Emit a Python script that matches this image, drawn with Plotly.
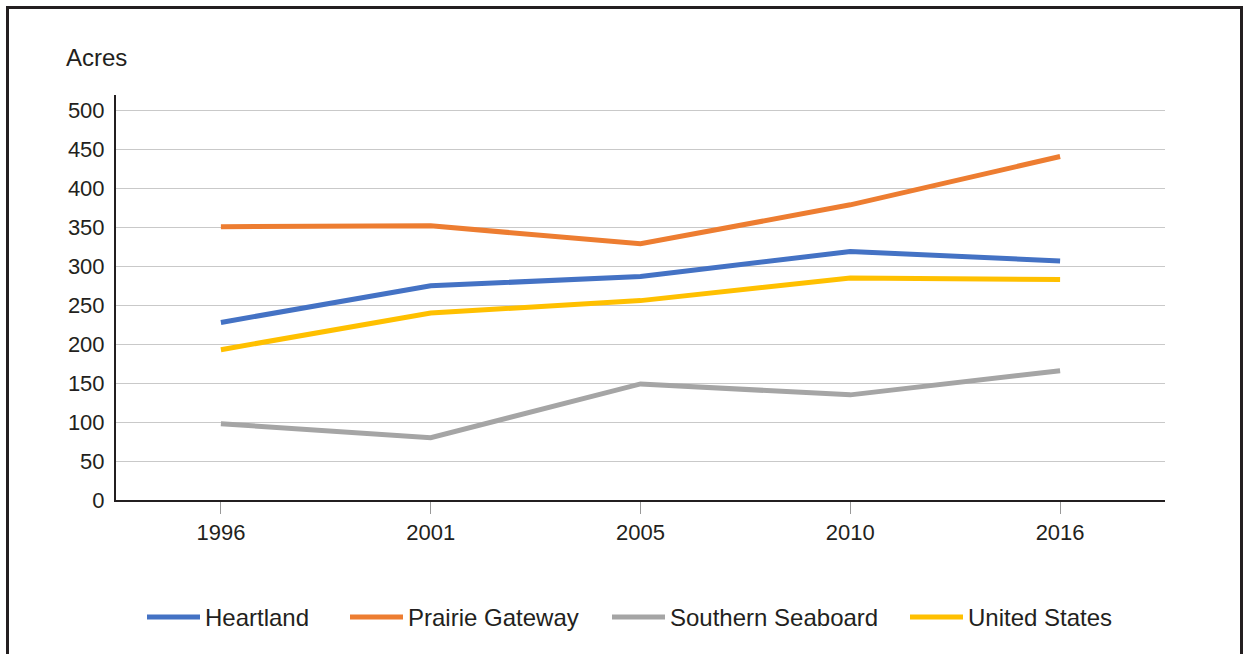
import plotly.graph_objects as go

# Average farm size by region, in acres
years = ["1996", "2001", "2005", "2010", "2016"]
heartland = [228, 275, 287, 319, 307]
prairie_gateway = [351, 352, 329, 379, 441]
southern_seaboard = [98, 80, 149, 135, 166]
united_states = [193, 240, 256, 285, 283]

series_names = ["Heartland", "Prairie Gateway", "Southern Seaboard", "United States"]
series_values = [heartland, prairie_gateway, southern_seaboard, united_states]
series_colors = ["#4472C4", "#ED7D31", "#A5A5A5", "#FFC000"]

y_ticks = list(range(0, 501, 50))

W, H = 1249, 654
ML, MR, MT, MB = 116, 84, 95, 154
PW = W - ML - MR
PH = H - MT - MB

FONT = "Liberation Sans, Arial, sans-serif"
TEXT = "#231f20"


def px_x(px):
    return (px - ML) / PW


def px_y(py):
    return (H - MB - py) / PH


fig = go.Figure()
for name, vals, color in zip(series_names, series_values, series_colors):
    fig.add_trace(go.Scatter(
        x=years, y=vals, name=name, mode="lines",
        line=dict(color=color, width=5),
        showlegend=False,
    ))

shapes = [
    # outer frame
    dict(type="rect", xref="paper", yref="paper",
         x0=px_x(7.5), x1=px_x(1241.5), y0=px_y(670), y1=px_y(7.5),
         line=dict(color="#231f20", width=3), layer="above"),
]
annotations = [
    dict(text="Acres", xref="paper", yref="paper", x=px_x(64), y=px_y(58),
         xanchor="left", yanchor="middle", showarrow=False,
         font=dict(family=FONT, size=24, color=TEXT)),
]

# legend row: line sample followed by label
legend_x = [145, 348, 610, 908]
legend_y = 617
for name, color, lx in zip(series_names, series_colors, legend_x):
    shapes.append(dict(type="line", xref="paper", yref="paper",
                       x0=px_x(lx + 2), x1=px_x(lx + 55), y0=px_y(legend_y), y1=px_y(legend_y),
                       line=dict(color=color, width=5)))
    annotations.append(dict(text=name, xref="paper", yref="paper",
                            x=px_x(lx + 58), y=px_y(legend_y),
                            xanchor="left", yanchor="middle", showarrow=False,
                            font=dict(family=FONT, size=24, color=TEXT)))

fig.update_layout(
    width=W, height=H,
    margin=dict(l=ML, r=MR, t=MT, b=MB),
    paper_bgcolor="white", plot_bgcolor="white",
    font=dict(family=FONT, size=22, color=TEXT),
    showlegend=False,
    shapes=shapes,
    annotations=annotations,
    xaxis=dict(
        type="category", range=[-0.5, 4.5],
        showgrid=False, zeroline=False,
        showline=True, linecolor="#231f20", linewidth=2,
        ticks="outside", ticklen=12, tickwidth=1, tickcolor="#999999",
        tickfont=dict(family=FONT, size=22, color=TEXT),
    ),
    yaxis=dict(
        range=[0, 520], tickvals=y_ticks,
        showgrid=True, gridcolor="#c9c9c9", gridwidth=1,
        zeroline=False,
        showline=True, linecolor="#231f20", linewidth=2,
        ticks="", ticklabelstandoff=5,
        tickfont=dict(family=FONT, size=22, color=TEXT),
    ),
)

fig.write_html("out.html")
